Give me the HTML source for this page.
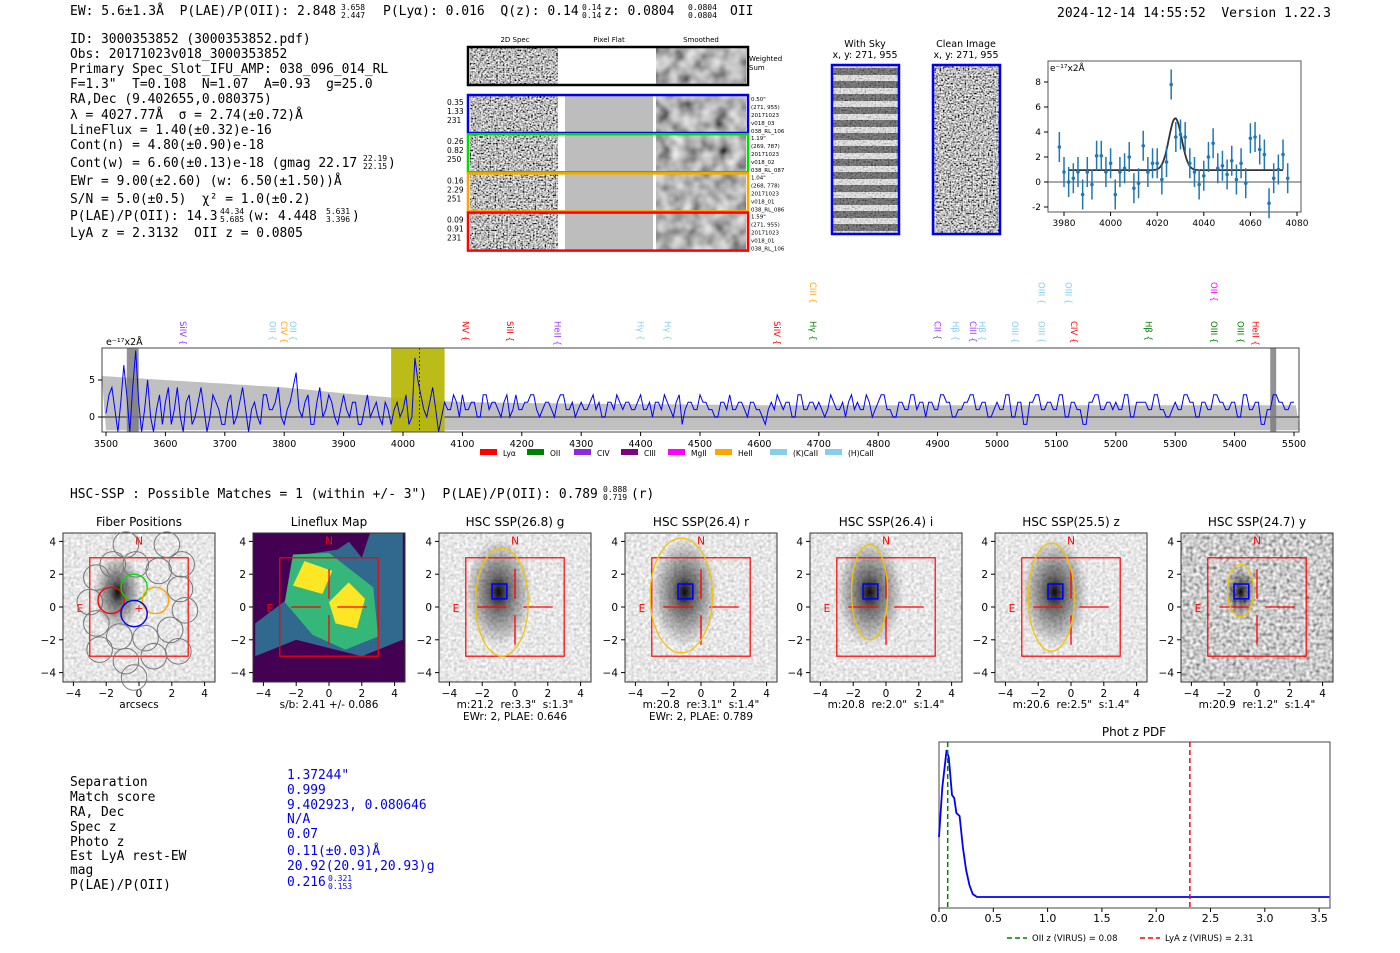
<!DOCTYPE html>
<html><head><meta charset="utf-8">
<style>
html,body{margin:0;padding:0;background:#fff;}
svg{display:block;}
svg text{white-space:pre;}
.mono{font-family:"DejaVu Sans Mono","Liberation Mono",monospace;font-size:12.9px;fill:#000;}
.sans{font-family:"DejaVu Sans","Liberation Sans",sans-serif;fill:#000;}
</style></head>
<body>
<svg id="fig" width="1400" height="953" viewBox="0 0 1400 953" xmlns="http://www.w3.org/2000/svg" xml:space="preserve">
<defs>
 <filter id="noiseF" x="0" y="0" width="100%" height="100%"><feTurbulence type="fractalNoise" baseFrequency="0.6" numOctaves="1" seed="3"/><feColorMatrix type="saturate" values="0"/><feComponentTransfer><feFuncR type="linear" slope="3.2" intercept="-1.1"/><feFuncG type="linear" slope="3.2" intercept="-1.1"/><feFuncB type="linear" slope="3.2" intercept="-1.1"/><feFuncA type="linear" slope="0" intercept="1"/></feComponentTransfer></filter>
 <filter id="smoothF" x="0" y="0" width="100%" height="100%"><feTurbulence type="fractalNoise" baseFrequency="0.07" numOctaves="2" seed="7"/><feColorMatrix type="saturate" values="0"/><feComponentTransfer><feFuncR type="linear" slope="1.4" intercept="-0.25"/><feFuncG type="linear" slope="1.4" intercept="-0.25"/><feFuncB type="linear" slope="1.4" intercept="-0.25"/><feFuncA type="linear" slope="0" intercept="1"/></feComponentTransfer></filter>
 <filter id="cutF" x="0" y="0" width="100%" height="100%"><feTurbulence type="fractalNoise" baseFrequency="0.35" numOctaves="1" seed="11"/><feColorMatrix type="saturate" values="0"/><feComponentTransfer><feFuncR type="linear" slope="1.0" intercept="0.3"/><feFuncG type="linear" slope="1.0" intercept="0.3"/><feFuncB type="linear" slope="1.0" intercept="0.3"/><feFuncA type="linear" slope="0" intercept="1"/></feComponentTransfer></filter>
 <filter id="cutY" x="0" y="0" width="100%" height="100%"><feTurbulence type="fractalNoise" baseFrequency="0.3" numOctaves="1" seed="5"/><feColorMatrix type="saturate" values="0"/><feComponentTransfer><feFuncR type="linear" slope="1.8" intercept="-0.3"/><feFuncG type="linear" slope="1.8" intercept="-0.3"/><feFuncB type="linear" slope="1.8" intercept="-0.3"/><feFuncA type="linear" slope="0" intercept="1"/></feComponentTransfer></filter>
 <radialGradient id="gal"><stop offset="0" stop-color="#000" stop-opacity="0.95"/><stop offset="0.3" stop-color="#000" stop-opacity="0.55"/><stop offset="1" stop-color="#000" stop-opacity="0"/></radialGradient>
 <pattern id="skyP" width="68" height="13" patternUnits="userSpaceOnUse"><rect width="68" height="13" fill="#e8e8e8"/><rect y="3" width="68" height="7" fill="#555"/></pattern>
</defs>

<!-- header -->
<g class="mono" style="font-size:13px">
 <text x="70" y="15">EW: 5.6±1.3Å  P(LAE)/P(OII): 2.848</text>
 <text x="341" y="10" style="font-size:8px">3.658</text><text x="341" y="18" style="font-size:8px">2.447</text>
 <text x="383" y="15">P(Lyα): 0.016  Q(z): 0.14</text>
 <text x="582" y="10" style="font-size:8px">0.14</text><text x="582" y="18" style="font-size:8px">0.14</text>
 <text x="604" y="15">z: 0.0804</text>
 <text x="688" y="10" style="font-size:8px">0.0804</text><text x="688" y="18" style="font-size:8px">0.0804</text>
 <text x="730" y="15">OII</text>
 <text x="1057" y="17">2024-12-14 14:55:52  Version 1.22.3</text>
</g>

<g class="mono">
 <text x="70" y="43">ID: 3000353852 (3000353852.pdf)</text>
 <text x="70" y="58">Obs: 20171023v018_3000353852</text>
 <text x="70" y="73">Primary Spec_Slot_IFU_AMP: 038_096_014_RL</text>
 <text x="70" y="88">F=1.3"  T=0.108  N=1.07  A=0.93  g=25.0</text>
 <text x="70" y="103">RA,Dec (9.402655,0.080375)</text>
 <text x="70" y="119">λ = 4027.77Å  σ = 2.74(±0.72)Å</text>
 <text x="70" y="134">LineFlux = 1.40(±0.32)e-16</text>
 <text x="70" y="149">Cont(n) = 4.80(±0.90)e-18</text>
 <text x="70" y="167">Cont(w) = 6.60(±0.13)e-18 (gmag 22.17</text>
 <text x="363" y="161" style="font-size:8px">22.19</text><text x="363" y="169" style="font-size:8px">22.15</text><text x="388" y="167">)</text>
 <text x="70" y="185">EWr = 9.00(±2.60) (w: 6.50(±1.50))Å</text>
 <text x="70" y="203">S/N = 5.0(±0.5)  χ² = 1.0(±0.2)</text>
 <text x="70" y="220">P(LAE)/P(OII): 14.3</text>
 <text x="220" y="214" style="font-size:8px">44.34</text><text x="220" y="222" style="font-size:8px">5.685</text>
 <text x="247" y="220">(w: 4.448</text>
 <text x="326" y="214" style="font-size:8px">5.631</text><text x="326" y="222" style="font-size:8px">3.396</text><text x="352" y="220">)</text>
 <text x="70" y="237">LyA z = 2.3132  OII z = 0.0805</text>
</g>

<!-- 2D spectra -->
<g class="sans" style="font-size:7px">
 <text x="515" y="42" text-anchor="middle">2D Spec</text>
 <text x="609" y="42" text-anchor="middle">Pixel Flat</text>
 <text x="701" y="42" text-anchor="middle">Smoothed</text>
 <g>
  <rect x="470" y="48" width="88" height="36" filter="url(#noiseF)"/>
  <rect x="558" y="48" width="98" height="36" fill="#fff"/>
  <rect x="656" y="48" width="90" height="36" filter="url(#smoothF)"/>
  <rect x="468" y="47" width="280" height="38" fill="none" stroke="#000" stroke-width="2.5"/>
  <text x="749" y="61">Weighted</text><text x="749" y="70">Sum</text>
 </g>
 <g id="rows"></g>
</g>

<!-- sky / clean -->
<g class="sans" style="font-size:9.5px">
 <text x="865" y="47" text-anchor="middle">With Sky</text><text x="865" y="58" text-anchor="middle">x, y: 271, 955</text>
 <rect x="832" y="65" width="67" height="169" fill="url(#skyP)"/>
 <rect x="832" y="65" width="67" height="169" filter="url(#noiseF)" opacity="0.3"/>
 <rect x="832" y="65" width="67" height="169" fill="none" stroke="#0000ee" stroke-width="2.5"/>
</g>
<g class="sans" style="font-size:9.5px">
 <text x="966" y="47" text-anchor="middle">Clean Image</text><text x="966" y="58" text-anchor="middle">x, y: 271, 955</text>
 <rect x="933" y="65" width="67" height="169" filter="url(#noiseF)"/>
 <rect x="933" y="65" width="67" height="169" fill="none" stroke="#0000ee" stroke-width="2.5"/>
</g>

<!-- zoom line fit -->
<g id="fit" class="sans" style="font-size:9px">
 <rect x="1048" y="61" width="253" height="151" fill="none" stroke="#555" stroke-width="1"/>
 <text x="1050" y="71">e⁻¹⁷x2Å</text>
</g>

<!-- full spectrum -->
<g id="spec" class="sans" style="font-size:9.5px">
 <text x="106" y="345">e⁻¹⁷x2Å</text>
</g>

<g class="mono" style="font-size:12.9px">
 <text x="70" y="498">HSC-SSP : Possible Matches = 1 (within +/- 3")  P(LAE)/P(OII): 0.789</text>
 <text x="603" y="492" style="font-size:8px">0.888</text><text x="603" y="500" style="font-size:8px">0.719</text>
 <text x="631" y="498">(r)</text>
</g>

<g id="cuts" class="sans"></g>

<!-- table -->
<g class="mono">
 <text x="70" y="786">Separation</text><text x="70" y="801">Match score</text><text x="70" y="816">RA, Dec</text>
 <text x="70" y="831">Spec z</text><text x="70" y="846">Photo z</text><text x="70" y="860">Est LyA rest-EW</text>
 <text x="70" y="874">mag</text><text x="70" y="889">P(LAE)/P(OII)</text>
 <text x="287" y="779" style="fill:#00e">1.37244"</text><text x="287" y="794" style="fill:#00e">0.999</text>
 <text x="287" y="809" style="fill:#00e">9.402923, 0.080646</text><text x="287" y="823" style="fill:#00e">N/A</text>
 <text x="287" y="838" style="fill:#00e">0.07</text><text x="287" y="855" style="fill:#00e">0.11(±0.03)Å</text>
 <text x="287" y="870" style="fill:#00e">20.92(20.91,20.93)g</text><text x="287" y="886" style="fill:#00e">0.216</text>
 <text x="328" y="881" style="fill:#00e;font-size:8px">0.321</text><text x="328" y="889" style="fill:#00e;font-size:8px">0.153</text>
</g>

<g id="pdf" class="sans" style="font-size:10px">
 <text x="1134" y="736" text-anchor="middle" style="font-size:12px">Phot z PDF</text>
</g>
</svg>

<script>
// ---------- data ----------
const specStart = 3500, specStep = 5;
const specFlux = [0.5,3,4,1,-2,2,7,3,-3,4,9,2,-4,1,5,0,-2,1,3,-1,
 2,4,-1,1,4,0,-2,2,3,-1,0,2,4,1,-2,0,3,2,1,-1,
 -1,2,3,-1,0,2,4,1,-2,1,2,0,-1,3,3,1,1,2,4,0,
 -1,1,2,4,6,1,0,2,3,-1,-1,2,4,0,1,3,2,0,-1,1,
 3,1,0,2,2,-1,-1,1,3,0,1,2,0,-1,2,1,-1,1,2,0,
 1,3,-1,0,8,5,3,1,0,2,4,1,-2,0,2,1,1,3,2,0,
 3,1,1,2,2,0,0,3,3,1,2,2,1,0,2,3,0,1,3,1,
 1,2,2,3,3,1,0,1,2,2,1,0,2,3,3,1,1,2,0,1,
 2,1,1,2,3,1,2,0,0,2,2,1,3,2,1,2,2,1,1,2,
 3,1,1,2,0,2,2,1,3,2,1,0,2,3,-1,1,2,2,1,1,
 3,2,2,1,1,0,0,2,2,1,3,1,1,2,2,1,0,2,2,1,
 1,0,-1,1,2,1,3,2,1,2,2,0,0,3,3,1,1,2,2,1,
 2,1,0,1,3,2,1,1,2,0,2,3,1,2,1,1,3,2,0,1,
 2,3,3,1,1,0,0,2,2,1,1,3,3,1,2,2,0,2,2,1,
 1,3,3,2,2,0,0,1,1,2,2,3,3,1,1,2,2,0,0,1,
 2,1,1,3,3,0,0,2,2,-1,-1,2,2,3,3,1,1,2,2,1,
 1,3,3,0,0,2,2,1,1,-1,-1,2,2,3,3,1,1,2,2,1,
 2,1,1,3,3,0,0,2,2,2,2,1,1,3,3,1,1,0,0,1,
 2,1,1,3,3,2,2,0,0,2,2,1,1,3,3,2,2,1,1,2,
 2,0,0,3,3,1,1,2,2,-1,-1,1,1,3,3,2,2,1,1,2,2];
const errWave = [3500,3600,3700,3800,3900,4000,4100,4300,4600,5000,5500];
const errVals = [5.5,5,4.5,4,3.2,2.5,2,1.8,1.6,1.6,1.6];
const specTicks = [3500,3600,3700,3800,3900,4000,4100,4200,4300,4400,4500,4600,4700,4800,4900,5000,5100,5200,5300,5400,5500];
const lineWaves = [3630,3780,3800,3815,4105,4180,4260,4400,4445,4630,4690,4900,4930,4960,4975,5030,5075,5130,5255,5365,5410,5435];
const lineNames = ["SiIV","OII","CIV","OII","NV","SiII","HeII","Hγ","Hγ","SiIV","Hγ","CII","Hβ","CIII","Hβ","OIII","OIII","CIV","Hβ","OIII","OIII","HeII"];
const lineCols = ["#9933ff","#87ceeb","#ffa500","#87ceeb","red","red","#9933ff","#87ceeb","#87ceeb","red","green","#9933ff","#87ceeb","#9933ff","#87ceeb","#87ceeb","#87ceeb","red","green","green","green","red"];
const upWaves = [4690,5075,5120,5365];
const upNames = ["CIII","OIII","OIII","OII"];
const upCols = ["#ffa500","#87ceeb","#87ceeb","magenta"];
const legNames = ["Lyα","OII","CIV","CIII","MgII","HeII","(K)CaII","(H)CaII"];
const legCols = ["red","green","#8a2be2","purple","magenta","orange","#87ceeb","#87ceeb"];

const fitWave = [3978,3980,3982,3984,3986,3988,3990,3992,3994,3996,3998,4000,4002,4004,4006,4008,4010,4012,4014,4016,4018,4020,4022,4024,4026,4028,4030,4032,4034,4036,4038,4040,4042,4044,4046,4048,4050,4052,4054,4056,4058,4060,4062,4064,4066,4068,4070,4072,4074,4076];
const fitFlux = [2.8,0.8,0,0.3,0.8,-1,0.8,-0.2,2.1,2.1,0.8,1.5,-1,0.8,1.1,2,-0.5,-0.1,2.9,0.8,1.5,1.5,0.2,1.6,7.8,3.6,3.8,3.6,1.5,0.8,-0.2,0.5,2,3.1,1.1,1.3,0.6,1.7,0.2,1.5,-0.1,3.5,3.6,2.6,2.2,-1.7,0.3,1,2.2,0.3];
const fitErr = 1.2;
const fitCenter = 4027.77, fitSigma = 2.74, fitAmp = 4.15, fitCont = 0.95;
const fitXTicks = [3980,4000,4020,4040,4060,4080];
const fitYTicks = [-2,0,2,4,6,8];

const pdfZ = [0,0.03,0.07,0.09,0.12,0.14,0.16,0.19,0.22,0.25,0.28,0.31,0.35,0.5,3.6];
const pdfP = [0.42,0.75,1.0,0.95,0.7,0.68,0.58,0.56,0.35,0.2,0.1,0.04,0.02,0.02,0.02];
const pdfTicks = [0.0,0.5,1.0,1.5,2.0,2.5,3.0,3.5];
const zOII = 0.08, zLyA = 2.31;

const cutTitles = ["Fiber Positions","Lineflux Map","HSC SSP(26.8) g","HSC SSP(26.4) r","HSC SSP(26.4) i","HSC SSP(25.5) z","HSC SSP(24.7) y"];
const cutCap1 = ["arcsecs","s/b: 2.41 +/- 0.086","m:21.2  re:3.3\"  s:1.3\"","m:20.8  re:3.1\"  s:1.4\"","m:20.8  re:2.0\"  s:1.4\"","m:20.6  re:2.5\"  s:1.4\"","m:20.9  re:1.2\"  s:1.4\""];
const cutCap2 = ["","","EWr: 2, PLAE: 0.646","EWr: 2, PLAE: 0.789","","",""];
const ellCx = [0,0,-0.8,-1.2,-1.0,-1.2,-1.0];
const ellCy = [0,0,0.3,0.7,0.9,0.6,1.0];
const ellRx = [0,0,1.6,1.9,1.1,1.4,0.8];
const ellRy = [0,0,3.3,3.5,2.9,3.3,1.6];

const rowCols = ["#0000ee","#00dd00","orange","red"];
const rowNums = [["0.35","1.33","231"],["0.26","0.82","250"],["0.16","2.29","251"],["0.09","0.91","231"]];
const rowInfo = [["0.50\"","(271, 955)","20171023","v018_03","038_RL_106"],["1.19\"","(269, 787)","20171023","v018_02","038_RL_087"],["1.04\"","(268, 778)","20171023","v018_01","038_RL_086"],["1.59\"","(271, 955)","20171023","v018_01","038_RL_106"]];

// ---------- helpers ----------
const NS="http://www.w3.org/2000/svg";
function mk(tag, attrs, parent){const e=document.createElementNS(NS,tag);for(const k in attrs)e.setAttribute(k,attrs[k]);parent.appendChild(e);return e;}
function txt(parent,x,y,s,attrs){const e=mk("text",Object.assign({x:x,y:y},attrs||{}),parent);e.textContent=s;return e;}

// ---------- 2D spec rows ----------
const rows=document.getElementById("rows");
rowCols.forEach((c,i)=>{
 const y=95+i*39.2;
 const g=mk("g",{},rows);
 
 
 mk("rect",{x:470,y:y+1,width:88,height:37,filter:"url(#noiseF)"},g);
 mk("rect",{x:558,y:y+1,width:7,height:37,fill:"#fff"},g);
 mk("rect",{x:565,y:y+1,width:88,height:37,fill:"#bdbdbd"},g);
 mk("rect",{x:653,y:y+1,width:3,height:37,fill:"#fff"},g);
 mk("rect",{x:656,y:y+1,width:90,height:37,filter:"url(#smoothF)"},g);
 mk("rect",{x:468,y:y,width:280,height:38,fill:"none",stroke:c,"stroke-width":2.5},g);
 rowNums[i].forEach((s,j)=>txt(g,447,y+10+j*9,s,{style:"font-size:7.5px"}));
 rowInfo[i].forEach((s,j)=>txt(g,751,y+6+j*8,s,{style:"font-size:5.5px"}));
});

// ---------- fit plot ----------
const fit=document.getElementById("fit");
const fx=w=>1064+(w-3980)*2.33, fy=v=>182-v*12.5;
mk("line",{x1:1048,x2:1301,y1:fy(0),y2:fy(0),stroke:"#555","stroke-width":1},fit);
fitXTicks.forEach(t=>{mk("line",{x1:fx(t),x2:fx(t),y1:212,y2:216,stroke:"#000"},fit);txt(fit,fx(t),226,t,{"text-anchor":"middle"});});
fitYTicks.forEach(t=>{mk("line",{x1:1044,x2:1048,y1:fy(t),y2:fy(t),stroke:"#000"},fit);txt(fit,1041,fy(t)+3,t,{"text-anchor":"end"});});
let fp="";
for(let w=3982;w<=4074;w+=0.5){const v=fitCont+fitAmp*Math.exp(-0.5*Math.pow((w-fitCenter)/fitSigma,2));fp+=(fp?"L":"M")+fx(w).toFixed(1)+","+fy(v).toFixed(1);}
const fl=mk("path",{d:fp,fill:"none",stroke:"#333","stroke-width":1.8},fit);


fitWave.forEach((w,i)=>{
 const g=mk("g",{},fit);
 
 
 mk("line",{x1:fx(w),x2:fx(w),y1:fy(fitFlux[i]+fitErr),y2:fy(fitFlux[i]-fitErr),stroke:"#1f77b4","stroke-width":1.5},g);
 mk("circle",{cx:fx(w),cy:fy(fitFlux[i]),r:1.8,fill:"#1f77b4"},g);
});

// ---------- full spectrum ----------
const sp=document.getElementById("spec");
const sx=w=>106+(w-3500)*0.594, sy=v=>417-v*7.4;
function errAt(w){for(let i=0;i<errWave.length-1;i++){if(w<=errWave[i+1]){const f=(w-errWave[i])/(errWave[i+1]-errWave[i]);return errVals[i]+f*(errVals[i+1]-errVals[i]);}}return errVals[errVals.length-1];}
let up="",lo="";
for(let w=3493;w<=5510;w+=10){up+=(up?"L":"M")+sx(w).toFixed(1)+","+Math.max(348,sy(errAt(w))).toFixed(1);}
for(let w=5510;w>=3493;w-=10){lo+="L"+sx(w).toFixed(1)+","+Math.min(432,sy(-1.8)).toFixed(1);}
const band=mk("path",{d:up+lo+"Z",fill:"#c0c0c0"},sp);


mk("line",{x1:102,x2:1299,y1:sy(0),y2:sy(0),stroke:"#777","stroke-width":2},sp);
const yb=mk("rect",{x:sx(3980),y:348,width:sx(4070)-sx(3980),height:84,fill:"#b5b500",opacity:0.9},sp);


mk("rect",{x:sx(3535),y:348,width:sx(3555)-sx(3535),height:84,fill:"#777",opacity:0.8},sp);
mk("rect",{x:sx(5460),y:348,width:sx(5470)-sx(5460),height:84,fill:"#777",opacity:0.8},sp);
mk("line",{x1:sx(4027.77),x2:sx(4027.77),y1:348,y2:432,stroke:"#000","stroke-width":0.7,"stroke-dasharray":"2,2"},sp);
let sd="";
specFlux.forEach((v,i)=>{const w=specStart+i*specStep;sd+=(sd?"L":"M")+sx(w).toFixed(1)+","+Math.min(432,Math.max(348,sy(v))).toFixed(1);});
const sl=mk("path",{d:sd,fill:"none",stroke:"#0000ff","stroke-width":1},sp);


mk("rect",{x:102,y:348,width:1197,height:84,fill:"none",stroke:"#444","stroke-width":1},sp);
specTicks.forEach(t=>{mk("line",{x1:sx(t),x2:sx(t),y1:432,y2:436,stroke:"#000"},sp);txt(sp,sx(t),447,t,{"text-anchor":"middle"});});
[0,5].forEach(t=>{mk("line",{x1:98,x2:102,y1:sy(t),y2:sy(t),stroke:"#000"},sp);txt(sp,95,sy(t)+3,t,{"text-anchor":"end"});});
lineWaves.forEach((w,i)=>{
 const t=txt(sp,0,0,lineNames[i]+" {",{transform:"translate("+(sx(w)-3)+",321) rotate(90)",style:"font-size:8.5px;fill:"+lineCols[i]});
 
 
});
upWaves.forEach((w,i)=>{
 const t=txt(sp,0,0,upNames[i]+" {",{transform:"translate("+(sx(w)-3)+",282) rotate(90)",style:"font-size:8.5px;fill:"+upCols[i]});
 
 
});
legNames.forEach((n,i)=>{
 const x=480+i*47+(i>5?(i-5)*8:0);
 const g=mk("g",{},sp);
 
 
 mk("rect",{x:x,y:449,width:17,height:6,fill:legCols[i]},g);
 txt(g,x+23,456,n,{style:"font-size:7.5px"});
});

// ---------- cutouts ----------
const cuts=document.getElementById("cuts");
const lefts=[63,253,439,625,810,995,1181];
const S=16.4;
lefts.forEach((L,k)=>{
 const g=mk("g",{},cuts);
 
 
 const T=533,W=152,H=149,cx=L+W/2,cy=T+74;
 const X=v=>cx+v*S, Y=v=>cy-v*S;
 txt(g,cx,526,cutTitles[k],{"text-anchor":"middle",style:"font-size:12px"});
 const clip="c"+k;
 const cp=mk("clipPath",{id:clip},g);mk("rect",{x:L,y:T,width:W,height:H},cp);
 const im=mk("g",{"clip-path":"url(#"+clip+")"},g);
 if(k===1){
  mk("rect",{x:L,y:T,width:W,height:H,fill:"#440154"},im);
  mk("polygon",{points:[[X(-4.5),Y(-1)],[X(-2.5),Y(0.5)],[X(-1.5),Y(3.2)],[X(0.5),Y(3.5)],[X(2),Y(4.5)],[X(4.5),Y(4.5)],[X(4.5),Y(-2)],[X(2),Y(-3)],[X(-2),Y(-2)],[X(-4.5),Y(-3)]].join(" "),fill:"#31688e"},im);
  mk("polygon",{points:[[X(-2.7),Y(0.3)],[X(-2.2),Y(3.2)],[X(0),Y(3.3)],[X(2.7),Y(1.2)],[X(3),Y(-1.8)],[X(1),Y(-2.6)],[X(-1),Y(-1.7)]].join(" "),fill:"#35b779"},im);
  mk("polygon",{points:[[X(-2.2),Y(1.3)],[X(-1.5),Y(2.8)],[X(0.2),Y(2.2)],[X(-0.4),Y(0.8)]].join(" "),fill:"#fde725"},im);
  mk("polygon",{points:[[X(0),Y(0.3)],[X(1.2),Y(1.5)],[X(2.2),Y(0.5)],[X(1.7),Y(-1.3)],[X(0.4),Y(-1)]].join(" "),fill:"#fde725"},im);
  mk("polygon",{points:[[X(0.8),Y(4.5)],[X(2.5),Y(4.5)],[X(2),Y(3)]].join(" "),fill:"#440154"},im);
 } else {
  mk("rect",{x:L,y:T,width:W,height:H,filter:k===6?"url(#cutY)":"url(#cutF)"},im);
  const gx=k===0?-1.3:-1.0, gy=0.9;
  const rs=k===6?20:(k===0?30:42);
  mk("ellipse",{cx:X(gx),cy:Y(gy),rx:rs*0.8,ry:rs*1.3,fill:"url(#gal)"},im);
 }
 mk("rect",{x:L,y:T,width:W,height:H,fill:"none",stroke:"#333","stroke-width":1},g);
 [-4,-2,0,2,4].forEach(t=>{
  mk("line",{x1:X(t),x2:X(t),y1:T+H,y2:T+H+4,stroke:"#000"},g);
  txt(g,X(t),T+H+15,(t<0?"−":"")+Math.abs(t),{"text-anchor":"middle",style:"font-size:10.5px"});
  mk("line",{x1:L-4,x2:L,y1:Y(t),y2:Y(t),stroke:"#000"},g);
  txt(g,L-7,Y(t)+4,(t<0?"−":"")+Math.abs(t),{"text-anchor":"end",style:"font-size:10.5px"});
 });
 txt(g,cx,T+H+26,cutCap1[k],{"text-anchor":"middle",style:"font-size:10.5px"});
 if(cutCap2[k])txt(g,cx,T+H+38,cutCap2[k],{"text-anchor":"middle",style:"font-size:10.5px"});
 mk("rect",{x:X(-3),y:Y(3),width:6*S,height:6*S,fill:"none",stroke:"red","stroke-width":1.2},g);
 txt(g,X(0),Y(3.8),"N",{"text-anchor":"middle",style:"font-size:10.5px;fill:red"});
 txt(g,X(-3.6),Y(-0.3),"E",{"text-anchor":"middle",style:"font-size:10.5px;fill:red"});
 if(k===0){
  const pts=[[-0.8,3.8],[1.7,3.8],[2.6,2.6],[-2.6,1.8],[-1.6,2.6],[-0.2,2.6],[2.5,1.1],[-3.0,0.3],[-2.6,-1.0],[-1.2,-1.8],[0.4,-1.9],[1.9,-1.4],[2.8,-0.2],[-2.4,-2.6],[-0.8,-3.3],[0.9,-3.0],[2.4,-2.7],[-0.3,-4.3],[1.2,2.2]];
  pts.forEach(p=>mk("circle",{cx:X(p[0]),cy:Y(p[1]),r:0.78*S,fill:"none",stroke:"#777","stroke-width":1},g));
  [["red",-1.7,0.4],["#00dd00",-0.3,1.2],["orange",1,0.4],["#0000ee",-0.3,-0.4]].forEach(c=>mk("circle",{cx:X(c[1]),cy:Y(c[2]),r:0.8*S,fill:"none",stroke:c[0],"stroke-width":1.4},g));
  txt(g,X(0),Y(-0.3),"+",{"text-anchor":"middle",style:"font-size:11px;fill:red"});
 } else {
  mk("line",{x1:X(-2.3),x2:X(-0.5),y1:Y(0),y2:Y(0),stroke:"red","stroke-width":1.3},g);
  mk("line",{x1:X(0.5),x2:X(2.3),y1:Y(0),y2:Y(0),stroke:"red","stroke-width":1.3},g);
  mk("line",{x1:X(0),x2:X(0),y1:Y(2.3),y2:Y(0.5),stroke:"red","stroke-width":1.3},g);
  mk("line",{x1:X(0),x2:X(0),y1:Y(-0.5),y2:Y(-2.3),stroke:"red","stroke-width":1.3},g);
 }
 if(k>=2){
  mk("ellipse",{cx:X(ellCx[k]),cy:Y(ellCy[k]),rx:ellRx[k]*S,ry:ellRy[k]*S,fill:"none",stroke:"#f2c400","stroke-width":1.3,"clip-path":"url(#"+clip+")"},g);
  mk("rect",{x:X(-1.4),y:Y(1.4),width:0.9*S,height:0.9*S,fill:"none",stroke:"#0000ee","stroke-width":1.6},g);
 }
});

// ---------- phot z pdf ----------
const pd=document.getElementById("pdf");
const px=z=>939+z*108.6, py=p=>900-p*150;
mk("rect",{x:939,y:742,width:391,height:166,fill:"none",stroke:"#666","stroke-width":1.2},pd);
pdfTicks.forEach(t=>{mk("line",{x1:px(t),x2:px(t),y1:908,y2:912,stroke:"#000"},pd);txt(pd,px(t),922,t.toFixed(1),{"text-anchor":"middle",style:"font-size:11px"});});
let pp="";
pdfZ.forEach((z,i)=>{pp+=(pp?"L":"M")+px(Math.min(z,3.595)).toFixed(1)+","+py(pdfP[i]).toFixed(1);});
const pl=mk("path",{d:pp,fill:"none",stroke:"#0000ff","stroke-width":1.8},pd);


const l1=mk("line",{x1:px(zOII),x2:px(zOII),y1:742,y2:908,stroke:"green","stroke-width":1.5,"stroke-dasharray":"5,3"},pd);


const l2=mk("line",{x1:px(zLyA),x2:px(zLyA),y1:742,y2:908,stroke:"red","stroke-width":1.5,"stroke-dasharray":"5,3"},pd);


mk("line",{x1:1007,x2:1027,y1:938,y2:938,stroke:"green","stroke-width":1.5,"stroke-dasharray":"5,3"},pd);
txt(pd,1032,941,"OII z (VIRUS) = 0.08",{style:"font-size:8.5px"});
mk("line",{x1:1140,x2:1160,y1:938,y2:938,stroke:"red","stroke-width":1.5,"stroke-dasharray":"5,3"},pd);
txt(pd,1165,941,"LyA z (VIRUS) = 2.31",{style:"font-size:8.5px"});
</script>
</body></html>
